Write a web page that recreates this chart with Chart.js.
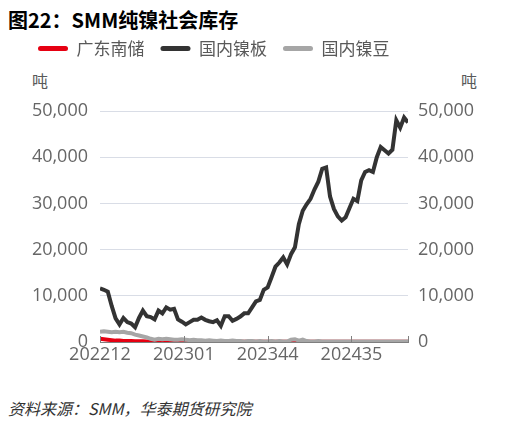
<!DOCTYPE html>
<html>
<head>
<meta charset="utf-8">
<script src="https://cdn.jsdelivr.net/npm/chart.js@4.4.1/dist/chart.umd.min.js"></script>
<style>
    body { margin: 0; background: #fff; width: 518px; height: 426px; overflow: hidden; position: relative;
           font-family: "Microsoft YaHei", "Noto Sans CJK SC", sans-serif; }
    #title { position: absolute; left: 8px; top: 10px; font-size: 20px; line-height: 1; font-weight: bold; color: #000; }
    .unit { position: absolute; top: 72px; font-size: 16px; line-height: 1; color: #595959; }
    #box { position: absolute; left: 0; top: 0; width: 518px; height: 375px; }
    #src { position: absolute; left: 8px; top: 400px; font-size: 16px; line-height: 1; font-style: italic; color: #333; }
</style>
</head>
<body>
<div id="title">图22：SMM纯镍社会库存</div>
<div class="unit" style="left:32px">吨</div>
<div class="unit" style="left:461px">吨</div>
<div id="box"><canvas id="stockChart"></canvas></div>
<div id="src">资料来源：SMM，华泰期货研究院</div>

<script>
// SMM pure nickel social inventory (tonnes), one value every 2 weeks
const seriesNames = ['广东南储', '国内镍板', '国内镍豆'];
const seriesColors = ['#e60012', '#333333', '#a6a6a6'];

const tickLabels = ['202212', '202301', '202344', '202435'];
const tickWeeks = [0, 43, 86, 129];
const lastWeek = 158;
const weekStep = 2;

const guangdongSouth = [
    700, 600, 500, 400, 300, 300, 200, 200, 200, 150,
    150, 150, 100, 100, 100, 100, 100, 100, 100, 100,
    100, 100, 100, 100, 100, 80, 80, 80, 80, 80,
    80, 80, 80, 60, 60, 60, 60, 60, 60, 60,
    50, 50, 50, 50, 50, 50, 50, 50, 50, 50,
    50, 50, 50, 50, 50, 50, 50, 50, 50, 50,
    50, 40, 40, 40, 40, 30, 30, 30, 30, 30,
    30, 30, 30, 30, 30, 30, 30, 30, 30, 30
];

const domesticPlate = [
    11600, 11300, 10900, 7800, 5100, 3800, 5200, 4300, 4000, 3200,
    5200, 6800, 5600, 5400, 4900, 6800, 6200, 7500, 7000, 7200,
    4900, 4400, 3800, 4300, 4800, 4800, 5300, 4800, 4500, 4300,
    4700, 3500, 5600, 5600, 4600, 5000, 5500, 6200, 6200, 7500,
    8800, 9100, 11300, 11800, 14000, 16300, 17200, 18300, 16800, 19000,
    20500, 25500, 28400, 29800, 31000, 33000, 34700, 37500, 37800, 31500,
    28800, 27200, 26300, 27000, 29000, 31000, 30500, 35000, 36800, 37200,
    36800, 40000, 42200, 41500, 40800, 41600, 48000, 46400, 48600, 47500
];

const domesticBeans = [
    2200, 2300, 2200, 2100, 2200, 2100, 2200, 2000, 1900, 1600,
    1400, 1200, 1000, 700, 500, 700, 600, 700, 600, 500,
    500, 600, 500, 400, 500, 400, 400, 300, 400, 300,
    200, 300, 200, 200, 300, 200, 200, 100, 200, 200,
    100, 200, 100, 100, 200, 100, 200, 100, 100, 500,
    600, 300, 500, 200, 100, 100, 200, 100, 100, 100,
    100, 100, 100, 100, 100, 100, 100, 100, 100, 100,
    100, 100, 100, 100, 100, 100, 100, 100, 100, 100
];

function toPoints(values) {
    return values.map((v, i) => ({ x: i * weekStep, y: v }));
}

const axisFont = { family: '"Open Sans", "Noto Sans", sans-serif', size: 18 };
const axisColor = '#666666';

// legend needs to be taller than its content so the plot starts lower
const legendHeight = {
    id: 'legendHeight',
    beforeUpdate(chart) {
        const lg = chart.legend;
        if (lg && !lg._patched) {
            const fit = lg.fit;
            lg.fit = function () { fit.call(this); this.height = 87; };
            lg._patched = true;
        }
    }
};

// small upward tick marks on the x axis
const innerTicks = {
    id: 'innerTicks',
    afterDraw(chart) {
        const x = chart.scales.x;
        const ctx = chart.ctx;
        ctx.save();
        ctx.strokeStyle = '#7f7f7f';
        ctx.lineWidth = 1;
        x.ticks.forEach(t => {
            const px = Math.round(x.getPixelForValue(t.value)) + 0.5;
            ctx.beginPath();
            ctx.moveTo(px, x.top);
            ctx.lineTo(px, x.top - 6);
            ctx.stroke();
        });
        ctx.restore();
    }
};

const seriesData = [guangdongSouth, domesticPlate, domesticBeans];
const drawOrder = [2, 1, 0];

new Chart(document.getElementById('stockChart'), {
    type: 'line',
    data: {
        datasets: seriesNames.map((name, k) => ({
            label: name,
            data: toPoints(seriesData[k]),
            borderColor: seriesColors[k],
            backgroundColor: seriesColors[k],
            borderWidth: 4,
            pointRadius: 0,
            tension: 0,
            order: drawOrder[k]
        }))
    },
    options: {
        responsive: true,
        maintainAspectRatio: false,
        animation: false,
        layout: { padding: { left: 22, top: 24, right: 0, bottom: 0 } },
        plugins: {
            tooltip: { enabled: false },
            legend: {
                display: true,
                position: 'top',
                align: 'start',
                labels: {
                    color: '#595959',
                    font: { family: '"Microsoft YaHei", "Noto Sans CJK SC", sans-serif', size: 17 },
                    boxWidth: 30,
                    boxHeight: 5,
                    padding: 16,
                    sort: (a, b) => a.datasetIndex - b.datasetIndex,
                    generateLabels: chart => chart.data.datasets.map((ds, i) => ({
                        text: ds.label,
                        fillStyle: ds.borderColor,
                        strokeStyle: ds.borderColor,
                        lineWidth: 0,
                        borderRadius: 2.5,
                        fontColor: '#595959',
                        datasetIndex: i
                    }))
                }
            }
        },
        scales: {
            x: {
                type: 'linear',
                min: 0,
                max: lastWeek,
                grid: { display: false, drawTicks: false },
                border: { display: true, color: '#7f7f7f', width: 1 },
                afterBuildTicks: scale => {
                    scale.ticks = tickWeeks.concat([lastWeek]).map(v => ({ value: v }));
                },
                afterFit: scale => { scale.height = 33; },
                ticks: {
                    autoSkip: false,
                    maxRotation: 0,
                    padding: 2,
                    color: axisColor,
                    font: axisFont,
                    callback: value => {
                        const idx = tickWeeks.indexOf(value);
                        return idx >= 0 ? tickLabels[idx] : '';
                    }
                }
            },
            y: {
                position: 'left',
                min: 0,
                max: 50000,
                grid: { color: '#d9dde6', lineWidth: 1, drawTicks: false },
                border: { display: false },
                afterFit: scale => { scale.width = 78; },
                ticks: {
                    stepSize: 10000,
                    padding: 12,
                    color: axisColor,
                    font: axisFont,
                    callback: v => v.toLocaleString('en-US')
                }
            },
            y1: {
                position: 'right',
                min: 0,
                max: 50000,
                grid: { drawOnChartArea: false, drawTicks: false },
                border: { display: false },
                afterFit: scale => { scale.width = 110; },
                ticks: {
                    stepSize: 10000,
                    padding: 10,
                    color: axisColor,
                    font: axisFont,
                    callback: v => v.toLocaleString('en-US')
                }
            }
        }
    },
    plugins: [legendHeight, innerTicks]
});
</script>
</body>
</html>
